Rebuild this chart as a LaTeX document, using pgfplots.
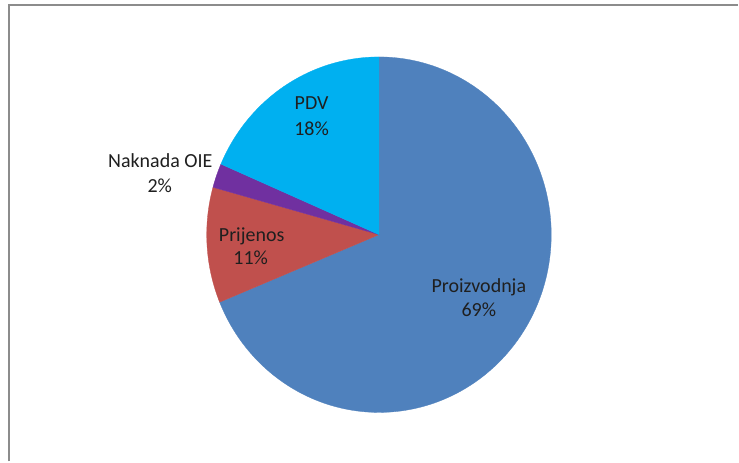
\documentclass[border=0pt]{standalone}
\usepackage{pgfplots}
\pgfplotsset{compat=1.18}
\usepackage{fontspec}
\setmainfont{Carlito}
\definecolor{cProd}{HTML}{4F81BD}
\definecolor{cPrij}{HTML}{C0504D}
\definecolor{cOIE}{HTML}{7030A0}
\definecolor{cPDV}{HTML}{00B0F0}
\definecolor{cFrame}{HTML}{8C8C8C}
% shares in percent
\def\pProd{68.8}
\def\pPrij{10.5}
\def\pOIE{2.2}
\def\pPDV{18.5}
\pgfmathsetmacro{\aA}{90-3.6*\pProd}
\pgfmathsetmacro{\aB}{\aA-3.6*\pPrij}
\pgfmathsetmacro{\aC}{\aB-3.6*\pOIE}
\pgfmathsetmacro{\aD}{\aC-3.6*\pPDV}
\def\cx{379.5}
\def\cy{227}
\def\rx{172.5}
\def\ry{178}
\begin{document}
\begin{tikzpicture}
\begin{axis}[scale only axis, width=739pt, height=462pt,
  xmin=0, xmax=739, ymin=0, ymax=462, hide axis, clip=false]
\path[fill=white] (axis cs:0,0) rectangle (axis cs:739,462);
\draw[cFrame, line width=2pt] (axis cs:9,0) -- (axis cs:9,457) -- (axis cs:739,457);
\addplot[fill=cProd, draw=cProd, line width=0.3pt, domain=\aA:90, samples=150, variable=\t]
  ({\cx+\rx*cos(\t)},{\cy+\ry*sin(\t)}) -- (axis cs:\cx,\cy) -- cycle;
\addplot[fill=cPrij, draw=cPrij, line width=0.3pt, domain=\aB:\aA, samples=40, variable=\t]
  ({\cx+\rx*cos(\t)},{\cy+\ry*sin(\t)}) -- (axis cs:\cx,\cy) -- cycle;
\addplot[fill=cOIE, draw=cOIE, line width=0.3pt, domain=\aC:\aB, samples=10, variable=\t]
  ({\cx+\rx*cos(\t)},{\cy+\ry*sin(\t)}) -- (axis cs:\cx,\cy) -- cycle;
\addplot[fill=cPDV, draw=cPDV, line width=0.3pt, domain=\aD:\aC, samples=60, variable=\t]
  ({\cx+\rx*cos(\t)},{\cy+\ry*sin(\t)}) -- (axis cs:\cx,\cy) -- cycle;
\tikzset{lab/.style={anchor=base, inner sep=0pt, font=\fontsize{20}{24}\selectfont, text=black!88}}
\node[lab] at (axis cs:479.5,169) {Proizvodnja};
\node[lab] at (axis cs:479.5,145) {69\%};
\node[lab] at (axis cs:252,220) {Prijenos};
\node[lab] at (axis cs:251,197) {11\%};
\node[lab] at (axis cs:160.5,294) {Naknada OIE};
\node[lab] at (axis cs:160,269) {2\%};
\node[lab] at (axis cs:312,352) {PDV};
\node[lab] at (axis cs:312,326) {18\%};
\end{axis}
\end{tikzpicture}
\end{document}
